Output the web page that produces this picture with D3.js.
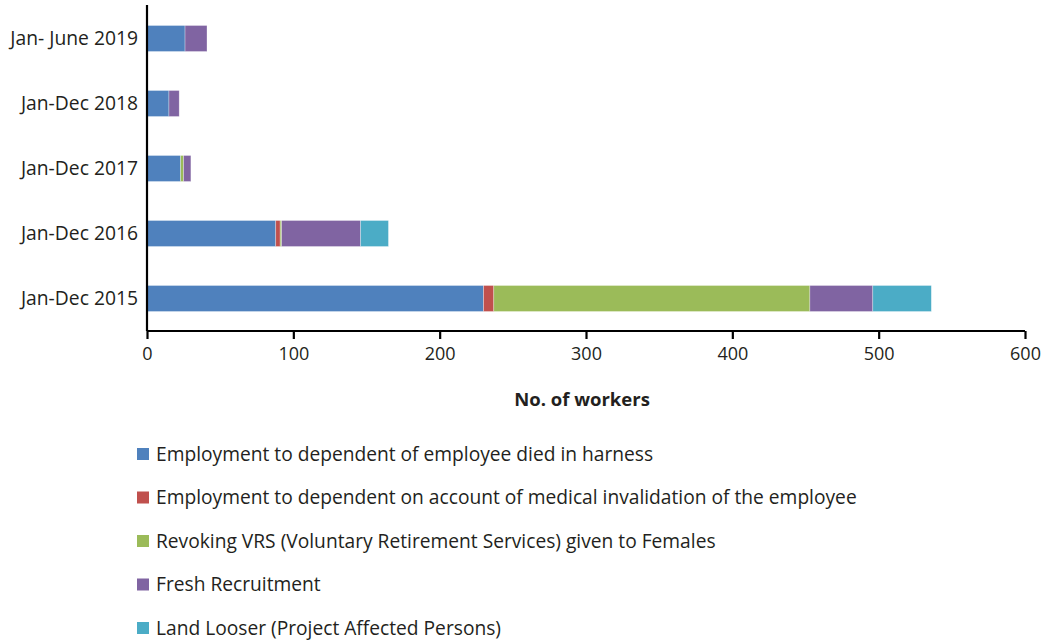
<!DOCTYPE html>
<html>
<head>
<meta charset="utf-8">
<script src="https://cdn.jsdelivr.net/npm/d3@7"></script>
<style>
  html, body { margin: 0; padding: 0; background: #fff; }
  svg { display: block; font-family: "Open Sans", "Noto Sans", sans-serif; }
</style>
</head>
<body>
<svg id="chart" width="1043" height="642"></svg>
<script>
// Periods, top to bottom
const periods = ["Jan- June 2019", "Jan-Dec 2018", "Jan-Dec 2017", "Jan-Dec 2016", "Jan-Dec 2015"];

// Series names (legend order = stack order)
const seriesNames = [
  "Employment to dependent of employee died in harness",
  "Employment to dependent on account of medical invalidation of the employee",
  "Revoking VRS (Voluntary Retirement Services) given to Females",
  "Fresh Recruitment",
  "Land Looser (Project Affected Persons)"
];

// Values per series, aligned with periods
const diedInHarness     = [26, 15, 23, 88, 230];
const medicalInvalid    = [0, 0, 0, 3, 7];
const revokingVRS       = [0, 0, 2, 1, 216];
const freshRecruitment  = [15, 7, 5, 54, 43];
const landLooser        = [0, 0, 0, 19, 40];

const xTicks = [0, 100, 200, 300, 400, 500, 600];
const colors = ["#4f81bd", "#c0504d", "#9bbb59", "#8064a2", "#4bacc6"];

const seriesValues = [diedInHarness, medicalInvalid, revokingVRS, freshRecruitment, landLooser];
const keys = seriesNames.map((_, i) => "s" + i);
const rows = periods.map((p, j) => {
  const r = { period: p };
  keys.forEach((k, i) => r[k] = seriesValues[i][j]);
  return r;
});

const svg = d3.select("#chart");
const plot = { left: 147, right: 1025, top: 6, bottom: 331 };

const x = d3.scaleLinear().domain([0, 600]).range([plot.left, plot.right]);
const y = d3.scaleBand().domain(periods).range([plot.top, plot.bottom]).paddingInner(0.6).paddingOuter(0.3);

const stacked = d3.stack().keys(keys)(rows);

const g = svg.append("g");
g.selectAll("g.layer")
  .data(stacked)
  .join("g")
  .attr("class", "layer")
  .attr("fill", (d, i) => colors[i])
  .selectAll("rect")
  .data(d => d)
  .join("rect")
  .attr("x", d => x(d[0]))
  .attr("width", d => Math.max(0, x(d[1]) - x(d[0])))
  .attr("y", d => y(d.data.period))
  .attr("height", y.bandwidth())
  .attr("stroke", "#ffffff")
  .attr("stroke-opacity", d => (d[1] - d[0]) > 0 ? 0.5 : 0)
  .attr("stroke-width", 0.6);

// X axis
const xAxis = svg.append("g")
  .attr("transform", `translate(0,${plot.bottom})`)
  .call(d3.axisBottom(x).tickValues(xTicks).tickSize(8).tickPadding(8).tickFormat(d3.format("d")));
xAxis.select(".domain").attr("stroke", "#000").attr("stroke-width", 2.2).attr("d", `M${plot.left},0H${plot.right}`);
xAxis.selectAll(".tick line").attr("stroke", "#000").attr("stroke-width", 2.2);
xAxis.selectAll(".tick text")
  .attr("fill", "#231f20")
  .style("font-size", "18px")
  .style("font-family", "'Open Sans', sans-serif");

// Y axis
const yAxis = svg.append("g")
  .attr("transform", `translate(${plot.left},0)`)
  .call(d3.axisLeft(y).tickSize(0).tickPadding(9));
yAxis.select(".domain").attr("stroke", "#000").attr("stroke-width", 2.2).attr("d", `M0,${plot.top - 1}V${plot.bottom}`);
yAxis.selectAll(".tick text")
  .attr("fill", "#231f20")
  .style("font-size", "19.3px")
  .style("font-family", "'Open Sans', sans-serif");

// Axis title
svg.append("text")
  .attr("x", 582)
  .attr("y", 406)
  .attr("text-anchor", "middle")
  .attr("fill", "#231f20")
  .style("font-size", "18.5px")
  .style("font-weight", "bold")
  .text("No. of workers");

// Legend
const legend = svg.append("g");
const legendRows = legend.selectAll("g")
  .data(seriesNames)
  .join("g")
  .attr("transform", (d, i) => `translate(137,${454 + i * 43.5})`);
legendRows.append("rect")
  .attr("x", 0).attr("y", -6)
  .attr("width", 12).attr("height", 12)
  .attr("fill", (d, i) => colors[i]);
legendRows.append("text")
  .attr("x", 19)
  .attr("y", 0)
  .attr("dy", "0.35em")
  .attr("fill", "#231f20")
  .style("font-size", "19.2px")
  .text(d => d);
</script>
</body>
</html>
